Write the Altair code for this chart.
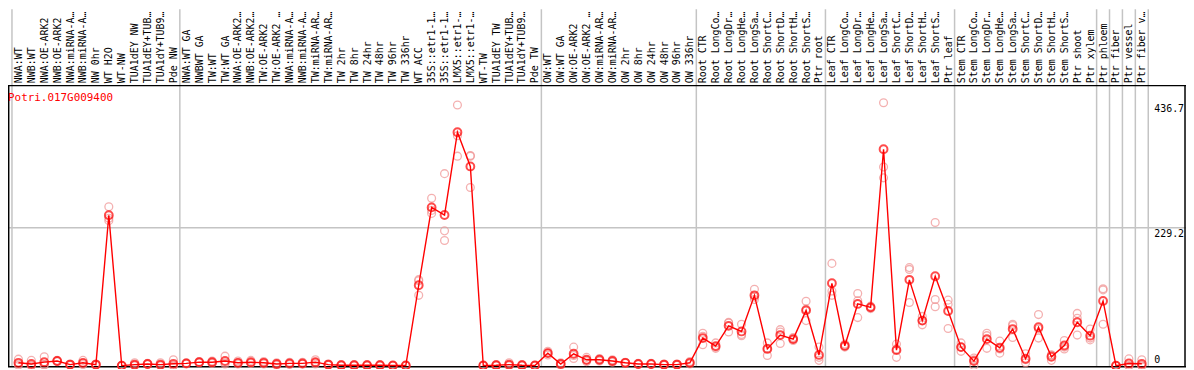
import altair as alt
import pandas as pd

gene_id = "Potri.017G009400"

cats = [
    "NWA:WT", "NWB:WT", "NWA:OE-ARK2", "NWB:OE-ARK2", "NWA:miRNA-ARK2", "NWB:miRNA-ARK2",
    "NW 0hr", "WT H2O", "WT-NW", "TUA1dEY NW", "TUA1dEY+TUB15 NW", "TUA1dY+TUB9 NW", "Pde NW",
    "NWA:WT GA", "NWBWT GA", "TW:WT", "TW:WT GA", "NWA:OE-ARK2 GA", "NWB:OE-ARK2 GA",
    "TW:OE-ARK2", "TW:OE-ARK2 GA", "NWA:miRNA-ARK2 GA", "NWB:miRNA-ARK2 GA", "TW:miRNA-ARK2",
    "TW:miRNA-ARK2 GA", "TW 2hr", "TW 8hr", "TW 24hr", "TW 48hr", "TW 96hr", "TW 336hr",
    "WT ACC", "35S::etr1-1 H2O", "35S::etr1-1 ACC", "LMX5::etr1-1 H2O", "LMX5::etr1-1 ACC",
    "WT-TW", "TUA1dEY TW", "TUA1dEY+TUB15 TW", "TUA1dY+TUB9 TW", "Pde TW",
    "OW:WT", "OW:WT GA", "OW:OE-ARK2", "OW:OE-ARK2 GA", "OW:miRNA-ARK2", "OW:miRNA-ARK2 GA",
    "OW 2hr", "OW 8hr", "OW 24hr", "OW 48hr", "OW 96hr", "OW 336hr",
    "Root CTR", "Root LongCold", "Root LongDrought", "Root LongHeat", "Root LongSalt",
    "Root ShortCold", "Root ShortDrought", "Root ShortHeat", "Root ShortSalt", "Ptr root",
    "Leaf CTR", "Leaf LongCold", "Leaf LongDrought", "Leaf LongHeat", "Leaf LongSalt",
    "Leaf ShortCold", "Leaf ShortDrought", "Leaf ShortHeat", "Leaf ShortSalt", "Ptr leaf",
    "Stem CTR", "Stem LongCold", "Stem LongDrought", "Stem LongHeat", "Stem LongSalt",
    "Stem ShortCold", "Stem ShortDrought", "Stem ShortHeat", "Stem ShortSalt", "Ptr shoot", "Ptr xylem",
    "Ptr phloem", "Ptr fiber", "Ptr vessel", "Ptr fiber vessel",
]

group_sizes = [13, 28, 12, 10, 10, 11, 1, 1, 1, 1]

means = [
    5, 3, 6, 8, 2, 5, 2, 250, 0.3, 2, 3, 2, 3.3,
    4, 6, 6, 8, 5, 6, 5, 3, 4, 4, 6, 2, 1, 1, 1, 1, 0.5, 0.5,
    133.7, 263, 250.3, 387.7, 331, 0.5, 1, 2, 1, 0.5,
    21, 3, 20, 10, 10, 8, 5, 3, 3, 2, 2, 5,
    46, 32.7, 66.3, 57, 117, 28, 51, 44.3, 92, 18,
    137, 33.3, 102.7, 97, 359.6, 26, 142.7, 75, 148.7, 91,
    31, 7.8, 44.3, 30, 61, 11.7, 64, 15, 33.7, 72.3, 50,
    107.7, 0.2, 3.8, 3.3,
]

rep_a = [
    11, 9, 15, 9, 3, 9, 3, 264, 1, 5, 4, 5, 10,
    5, 7, 8, 16, 8, 9, 7, 5, 6, 6, 10, 3, 2, 2, 2, 2, 1, 1,
    143, 278, 319, 433, 348, 1, 2, 5, 2, 1,
    24, 5, 31, 14, 12, 10, 6, 4, 4, 3, 3, 7,
    54, 38, 71, 69, 127, 38, 60, 47, 107, 31,
    170, 36, 120, 99, 436.7, 36, 163, 82, 238, 109,
    38, 13, 54, 41, 69, 20, 85, 18, 42, 87, 61,
    128, 0.5, 11.5, 10,
]
rep_b = [
    3, 0, 2, 8, 2, 4, 2, 245, 0, 1, 3, 1, 0,
    4, 6, 6, 5, 5, 5, 5, 3, 4, 3, 5, 2, 1, 1, 1, 1, 0.5, 0.5,
    141, 258, 224, 382, 349, 0.5, 1, 1, 1, 0.5,
    21, 3, 17, 9, 10, 8, 5, 3, 3, 2, 2, 5,
    49, 31, 72, 52, 114, 29, 56, 44, 94, 14,
    124, 33, 108, 97, 330, 28, 160, 75, 110, 102,
    31, 10, 50, 28, 67, 10, 61, 18, 31, 79, 46,
    126, 0, 0, 0,
]
rep_c = [
    1, 0, 1, 7, 1, 2, 1, 241, 0, 0, 2, 0, 0,
    3, 5, 4, 3, 3, 4, 3, 1, 2, 3, 3, 1, 0, 0, 0, 0, 0, 0,
    117, 253, 208, 348, 296, 0, 0, 0, 0, 0,
    18, 1, 12, 7, 8, 6, 4, 2, 2, 1, 1, 3,
    35, 29, 56, 50, 110, 17, 37, 42, 75, 9,
    117, 31, 80, 95, 312, 14, 105, 68, 98, 62,
    24, 0.5, 29, 21, 47, 5, 46, 9, 28, 51, 43,
    69, 0, 0, 0,
]

tick_values = [0, 229.2, 436.7]
grid_values = [229.2]

# layout (pixels)
W = 13 * len(cats)
H = 282
Y_MAX = 465
RIGHT_EDGE = 1181
TOP_LABEL = 77
RED = "#ff0000"
PINK = "#f09090"
GRAY = "#c4c4c4"
FONT = "DejaVu Sans Mono"

df_mean = pd.DataFrame({"cat": cats, "value": means})
df_rep = pd.DataFrame({
    "cat": cats * 3,
    "value": rep_a + rep_b + rep_c,
})

starts = []
pos = 0
for g in group_sizes:
    starts.append(cats[pos])
    pos += g
df_groups = pd.DataFrame({"cat": starts})
df_grid = pd.DataFrame({"value": grid_values})
df_ticks_top = pd.DataFrame({"value": [v for v in tick_values if v > 0],
                             "label": [str(v) for v in tick_values if v > 0]})
df_ticks_zero = pd.DataFrame({"value": [v for v in tick_values if v == 0],
                              "label": ["0" for v in tick_values if v == 0]})
df_title = pd.DataFrame({"t": [gene_id]})

xscale = alt.Scale(domain=cats, type="point", padding=0.5)
yscale = alt.Scale(domain=[0, Y_MAX])

x_axis = alt.Axis(orient="top", labelAngle=270, domain=False, ticks=False, grid=False,
                  labelFont=FONT, labelFontSize=10, labelColor="black", labelPadding=3,
                  labelOverlap=False, labelLimit=73, title=None)

X = alt.X("cat:N", scale=xscale, sort=cats, axis=x_axis)
Y = alt.Y("value:Q", scale=yscale, axis=None)

grid = alt.Chart(df_grid).mark_rule(color=GRAY, strokeWidth=1.5).encode(
    y=Y, x=alt.value(-11), x2=alt.value(RIGHT_EDGE + 2))

glines = alt.Chart(df_groups).mark_rule(color=GRAY, strokeWidth=1.5, xOffset=-6.5).encode(
    x=X, y=alt.value(-TOP_LABEL), y2=alt.value(H + 1))
gend = alt.Chart(df_title).mark_rule(color=GRAY, strokeWidth=1.5).encode(
    x=alt.value(W), y=alt.value(-TOP_LABEL), y2=alt.value(H + 1))

frame_top = alt.Chart(df_title).mark_rule(color="black", strokeWidth=1.2).encode(
    x=alt.value(-12), x2=alt.value(RIGHT_EDGE + 3), y=alt.value(0))
frame_bot = alt.Chart(df_title).mark_rule(color="black", strokeWidth=1.5).encode(
    x=alt.value(-12), x2=alt.value(RIGHT_EDGE + 3), y=alt.value(H + 1))
frame_left = alt.Chart(df_title).mark_rule(color="black", strokeWidth=1.5).encode(
    x=alt.value(-3.3), y=alt.value(0), y2=alt.value(H + 1))
frame_right = alt.Chart(df_title).mark_rule(color="black", strokeWidth=1.5).encode(
    x=alt.value(RIGHT_EDGE), y=alt.value(0), y2=alt.value(H + 1))

reps = alt.Chart(df_rep).mark_point(shape="circle", filled=False, size=62,
                                    strokeWidth=1.3, color=PINK).encode(x=X, y=Y)
line = alt.Chart(df_mean).mark_line(color=RED, strokeWidth=1.4).encode(x=X, y=Y)
pts = alt.Chart(df_mean).mark_point(shape="circle", filled=False, size=62,
                                    strokeWidth=2, color=RED).encode(x=X, y=Y)

title = alt.Chart(df_title).mark_text(align="left", baseline="middle", font=FONT,
                                      fontSize=11, color=RED).encode(
    x=alt.value(-4), y=alt.value(12), text="t:N")

ylab_top = alt.Chart(df_ticks_top).mark_text(align="left", baseline="top", font=FONT,
                                             fontSize=10, color="black", dy=1).encode(
    x=alt.value(W + 6), y=Y, text="label:N")
ylab_zero = alt.Chart(df_ticks_zero).mark_text(align="left", baseline="bottom", font=FONT,
                                               fontSize=10, color="black", dy=-1).encode(
    x=alt.value(W + 6), y=Y, text="label:N")

chart = alt.layer(
    grid, glines, gend, frame_top, frame_bot, frame_left, frame_right,
    reps, line, pts, title, ylab_top, ylab_zero,
).properties(
    width=W, height=H,
    autosize=alt.AutoSizeParams(type="none"),
    padding={"left": 4, "top": TOP_LABEL, "right": 1186 - 4 - W, "bottom": 2},
).configure_view(stroke=None)

chart.save("out.html", embed_options={"renderer": "svg", "actions": False})
